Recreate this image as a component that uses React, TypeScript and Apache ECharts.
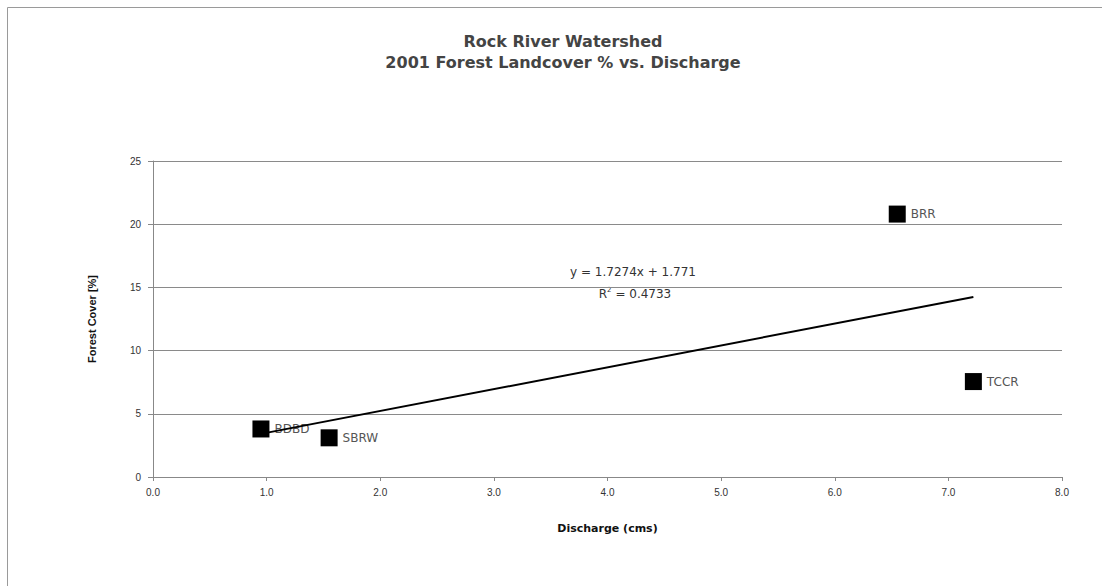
import React, { useEffect, useRef } from "react";
import * as echarts from "echarts";

const siteNames = ["BDBD", "SBRW", "BRR", "TCCR"];
const discharge = [0.95, 1.55, 6.55, 7.22];
const forestCover = [3.8, 3.1, 20.8, 7.55];
const trendSlope = 1.7274;
const trendIntercept = 1.771;
const trendR2 = "0.4733";
const titleLines = ["Rock River Watershed", "2001 Forest Landcover % vs. Discharge"];
const xAxisTitle = "Discharge (cms)";
const yAxisTitle = "Forest Cover [%]";

const narrow = "'Liberation Sans Narrow', 'Arial Narrow', 'Liberation Sans', sans-serif";
const wide = "'DejaVu Sans', sans-serif";

export default function App() {
  const ref = useRef<HTMLDivElement>(null);
  useEffect(() => {
    if (!ref.current) return;
    const chart = echarts.init(ref.current, null, { renderer: "svg" });
    const xMin = Math.min(...discharge);
    const xMax = Math.max(...discharge);
    const trend = [
      [xMin, trendSlope * xMin + trendIntercept],
      [xMax, trendSlope * xMax + trendIntercept],
    ];
    const points = discharge.map((x, i) => ({ value: [x, forestCover[i]], name: siteNames[i] }));
    chart.setOption({
      animation: false,
      backgroundColor: "#ffffff",
      title: {
        text: titleLines.join("\n"),
        left: 558,
        textAlign: "center",
        top: 26,
        textStyle: {
          fontFamily: wide,
          fontSize: 16,
          fontWeight: "bold",
          color: "#444444",
          lineHeight: 21,
        },
      },
      grid: { left: 153, right: 40, top: 161, bottom: 109 },
      xAxis: {
        type: "value",
        min: 0,
        max: 8,
        interval: 1,
        name: xAxisTitle,
        nameLocation: "middle",
        nameGap: 46,
        nameTextStyle: { fontFamily: wide, fontSize: 11, fontWeight: "bold", color: "#111" },
        axisLine: { show: true, lineStyle: { color: "#888", width: 1 } },
        axisTick: { show: true, length: 4, lineStyle: { color: "#888" } },
        splitLine: { show: false },
        axisLabel: {
          formatter: (v: number) => v.toFixed(1),
          fontFamily: narrow,
          fontSize: 10,
          color: "#333",
          margin: 10,
        },
      },
      yAxis: {
        type: "value",
        min: 0,
        max: 25,
        interval: 5,
        name: yAxisTitle,
        nameLocation: "middle",
        nameGap: 56,
        nameRotate: 90,
        nameTextStyle: { fontFamily: narrow, fontSize: 11, fontWeight: "bold", color: "#111" },
        axisLine: { show: true, lineStyle: { color: "#888", width: 1 } },
        axisTick: { show: true, length: 5, lineStyle: { color: "#888" } },
        splitLine: { show: true, lineStyle: { color: "#8a8a8a", width: 1 } },
        axisLabel: { fontFamily: narrow, fontSize: 10, color: "#333", margin: 12 },
      },
      graphic: [
        {
          type: "rect",
          shape: { x: 7.5, y: 7.5, width: 1200, height: 700 },
          style: { fill: "none", stroke: "#9a9a9a", lineWidth: 1 },
          silent: true,
        },
        {
          type: "text",
          x: 633,
          y: 272,
          style: {
            text: `y = ${trendSlope}x + ${trendIntercept}`,
            align: "center",
            verticalAlign: "middle",
            fontFamily: wide,
            fontSize: 12,
            fill: "#333",
          },
        },
        {
          type: "text",
          x: 635,
          y: 294,
          style: {
            text: `R{sup|2} = ${trendR2}`,
            align: "center",
            verticalAlign: "middle",
            fontFamily: wide,
            fontSize: 12,
            fill: "#333",
            rich: {
              sup: { fontFamily: wide, fontSize: 7, verticalAlign: "top", padding: [0, 0, 9, 0], fill: "#333" },
            },
          },
        },
      ],
      series: [
        {
          type: "line",
          data: trend,
          showSymbol: false,
          symbol: "none",
          lineStyle: { color: "#000", width: 2 },
          z: 3,
        },
        {
          type: "scatter",
          data: points,
          symbol: "rect",
          symbolSize: 17,
          itemStyle: { color: "#000", opacity: 1 },
          z: 2,
          label: {
            show: true,
            position: "right",
            distance: 5,
            formatter: (p: any) => p.name,
            fontFamily: wide,
            fontSize: 12,
            color: "#555",
          },
        },
      ],
    });
    return () => chart.dispose();
  }, []);
  return (
    <div
      ref={ref}
      style={{ position: "fixed", left: 0, top: 0, width: 1102, height: 586, background: "#fff" }}
    />
  );
}
